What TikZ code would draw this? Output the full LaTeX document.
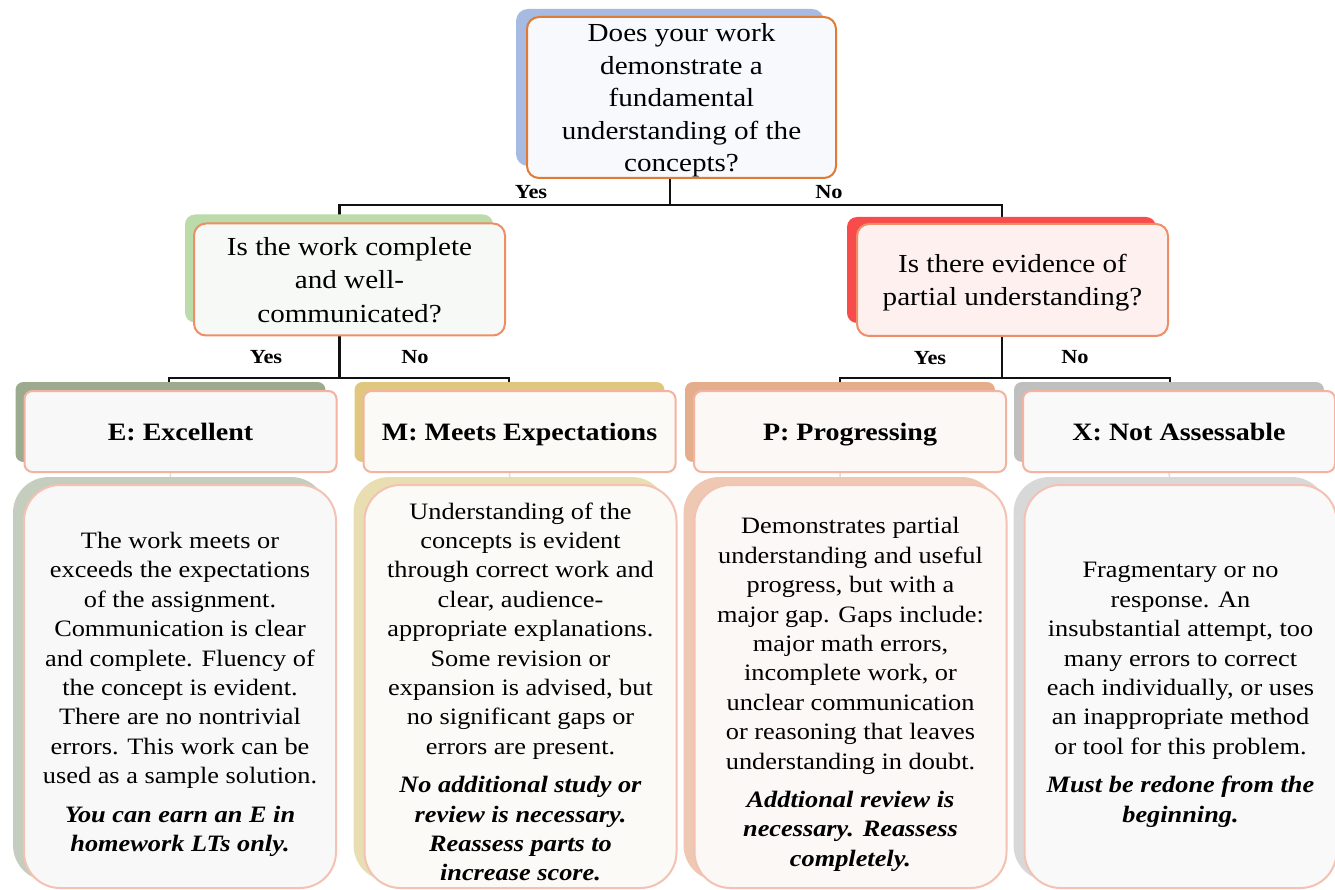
\documentclass[tikz,border=0pt]{standalone}
\usepackage{fontspec}
\setmainfont[FakeStretch=1.12]{Liberation Serif}
\pgfdeclarelayer{paper}
\pgfdeclarelayer{wires}
\pgfdeclarelayer{backs}
\pgfsetlayers{paper,wires,backs,main}

% colours
\definecolor{wire}{HTML}{111111}
\definecolor{faintwire}{HTML}{E6DAD4}
\definecolor{edgeTop}{HTML}{E07A35}
\definecolor{edgeQ}{HTML}{EE8E66}
\definecolor{edgeCard}{HTML}{F4B3A0}
\definecolor{edgeDesc}{HTML}{F4C2B2}
\definecolor{backTop}{HTML}{A7BAE1}
\definecolor{backYes}{HTML}{BCDBAA}
\definecolor{backNo}{HTML}{F84B4B}
\definecolor{backE}{HTML}{9CAB90}
\definecolor{backM}{HTML}{E0C780}
\definecolor{backP}{HTML}{E4AD8B}
\definecolor{backX}{HTML}{BFBFBF}
\definecolor{backDE}{HTML}{C5CEBE}
\definecolor{backDM}{HTML}{E9DDB2}
\definecolor{backDP}{HTML}{EEC8B3}
\definecolor{backDX}{HTML}{D8D8D8}
\definecolor{fillTop}{HTML}{F7F9FC}
\definecolor{fillYes}{HTML}{F7F9F6}
\definecolor{fillNo}{HTML}{FDF0EF}
\definecolor{fillE}{HTML}{F8F8F8}
\definecolor{fillM}{HTML}{FBFAF6}
\definecolor{fillP}{HTML}{FCF8F5}
\definecolor{fillX}{HTML}{F9F9F9}

% offset back panel behind a card: node, colour, radius, left, top, right, bottom shifts
\newcommand{\backpanel}[7]{%
  \begin{pgfonlayer}{backs}
    \fill[#2, rounded corners=#3pt]
      ([xshift=#4pt,yshift=#5pt]#1.north west) rectangle
      ([xshift=#6pt,yshift=#7pt]#1.south east);
  \end{pgfonlayer}}

\tikzset{
  card/.style={rounded corners=#1, line width=2pt, align=center, inner sep=0pt, text=black},
  question/.style={card=12pt, draw=edgeQ, minimum width=311pt, minimum height=112pt,
    font=\fontsize{26}{33.5}\selectfont, text depth=0pt},
  gradecard/.style={card=8pt, draw=edgeCard, minimum width=312pt, minimum height=81pt,
    font=\fontsize{25}{30}\selectfont\bfseries, text height=17pt, text depth=0pt},
  desccard/.style={card=36pt, draw=edgeDesc, minimum width=312pt, minimum height=403pt,
    font=\fontsize{23.5}{29.4}\selectfont, text depth=0pt},
  conn/.style={line width=2.4pt, draw=wire},
  faint/.style={line width=1.5pt, draw=faintwire},
  branch/.style={font=\fontsize{20}{22}\selectfont\bfseries, inner sep=0pt},
}
% one line of the bold italic closing remark of a description card
\newcommand{\rk}[1]{\textbf{\textit{#1}}}
% extra head room above the first line of a description card
\newcommand{\toppad}{\rule{0pt}{27pt}}

\begin{document}
\begin{tikzpicture}[x=1pt, y=-1pt]
\useasboundingbox (0,0) rectangle (1335,890);
\begin{pgfonlayer}{paper}
  \fill[white] (0,0) rectangle (1335,890);
\end{pgfonlayer}

% ---- question cards
\node[card=12pt, draw=edgeTop, fill=fillTop, minimum width=309pt, minimum height=161pt,
      font=\fontsize{26}{32.5}\selectfont, text depth=0pt] (top) at (681.5,97.5)
  {Does your work\\demonstrate a\\fundamental\\understanding of the\\concepts?};
\backpanel{top}{backTop}{12}{-10}{7}{-13}{13}

\node[question, fill=fillYes] (qyes) at (349.5,279.5)
  {Is the work complete\\and well-\\communicated?};
\backpanel{qyes}{backYes}{10}{-8}{8}{-13}{14}

\node[question, fill=fillNo] (qno) at (1012.5,280)
  {Is there evidence of\\partial understanding?};
\backpanel{qno}{backNo}{10}{-9}{6}{-13}{14}

% ---- grade cards
\node[gradecard, fill=fillE] (gE) at (180.5,431.5) {E: Excellent};
\node[gradecard, fill=fillM] (gM) at (519.5,431.5) {M: Meets Expectations};
\node[gradecard, fill=fillP] (gP) at (850,431.5) {P: Progressing};
\node[gradecard, fill=fillX] (gX) at (1179,431.5) {X: Not Assessable};
\backpanel{gE}{backE}{8}{-8}{8}{-12}{11}
\backpanel{gM}{backM}{8}{-8}{8}{-12}{11}
\backpanel{gP}{backP}{8}{-8}{8}{-12}{11}
\backpanel{gX}{backX}{8}{-8}{8}{-12}{11}

% ---- description cards
\node[desccard, fill=fillE] (dE) at (180,686.5)
  {\toppad The work meets or\\exceeds the expectations\\of the assignment.\\Communication is clear\\and complete. Fluency of\\the concept is evident.\\There are no nontrivial\\errors. This work can be\\used as a sample solution.\\[9pt]%
   \rk{You can earn an E in}\\\rk{homework LTs only.}};
\node[desccard, fill=fillM] (dM) at (520.5,686.5)
  {\toppad Understanding of the\\concepts is evident\\through correct work and\\clear, audience-\\appropriate explanations.\\Some revision or\\expansion is advised, but\\no significant gaps or\\errors are present.\\[9pt]%
   \rk{No additional study or}\\\rk{review is necessary.}\\\rk{Reassess parts to}\\\rk{increase score.}};
\node[desccard, fill=fillP] (dP) at (850.5,686.5)
  {\toppad Demonstrates partial\\understanding and useful\\progress, but with a\\major gap. Gaps include:\\major math errors,\\incomplete work, or\\unclear communication\\or reasoning that leaves\\understanding in doubt.\\[9pt]%
   \rk{Addtional review is}\\\rk{necessary. Reassess}\\\rk{completely.}};
\node[desccard, fill=fillX] (dX) at (1180.5,686.5)
  {\toppad Fragmentary or no\\response. An\\insubstantial attempt, too\\many errors to correct\\each individually, or uses\\an inappropriate method\\or tool for this problem.\\[9pt]%
   \rk{Must be redone from the}\\\rk{beginning.}};
\backpanel{dE}{backDE}{36}{-10}{7}{-10}{8}
\backpanel{dM}{backDM}{36}{-10}{7}{-10}{8}
\backpanel{dP}{backDP}{36}{-10}{7}{-10}{8}
\backpanel{dX}{backDX}{36}{-10}{7}{-10}{8}

% ---- connectors (drawn beneath the cards)
\begin{pgfonlayer}{wires}
  \coordinate (busTop) at (0,205);
  \coordinate (busLow) at (0,378);
  \draw[conn] ([xshift=-11.5pt]top.south) -- ([xshift=-11.5pt]top.south |- busTop)
              -| ([xshift=-10pt]qyes.north);
  \draw[conn] ([xshift=-11.5pt]top.south |- busTop) -| ([xshift=-10.5pt]qno.north);
  \draw[conn] ([xshift=-10pt]qyes.south) -- ([xshift=-10pt]qyes.south |- busLow)
              -| ([xshift=-11.5pt]gE.north);
  \draw[conn] ([xshift=-10pt]qyes.south |- busLow) -| ([xshift=-10.5pt]gM.north);
  \draw[conn] ([xshift=-10.5pt]qno.south) -- ([xshift=-10.5pt]qno.south |- busLow)
              -| ([xshift=-10pt]gP.north);
  \draw[conn] ([xshift=-10.5pt]qno.south |- busLow) -| ([xshift=-9pt]gX.north);
  \foreach \g/\d in {gE/dE, gM/dM, gP/dP, gX/dX}
    \draw[faint] ([xshift=-10pt]\g.south) -- ([xshift=-10pt]\d.north);
\end{pgfonlayer}

% ---- branch labels
\node[branch] (yesTop) at (531,192) {Yes};
\node[branch] (noTop) at (829,192) {No};
\node[branch] (yesQ1) at (266,357) {Yes};
\node[branch] (noQ1) at (415,357) {No};
\node[branch] (yesQ2) at (930,358) {Yes};
\node[branch] (noQ2) at (1075,357) {No};
\end{tikzpicture}
\end{document}
